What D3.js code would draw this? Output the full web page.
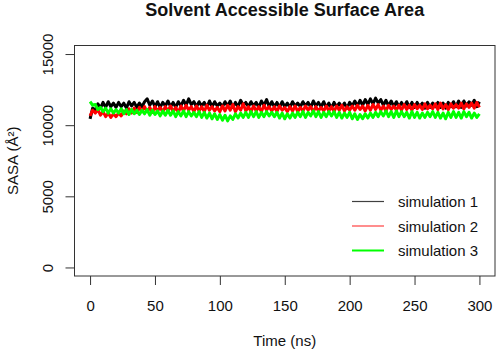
<!DOCTYPE html>
<html lang="en">
<head>
    <meta charset="UTF-8">
    <title>Solvent Accessible Surface Area</title>
    <script src="https://d3js.org/d3.v7.min.js"></script>
    <style>
        body { margin: 0; background: #fff; }
        svg { display: block; font-family: "Liberation Sans", Arial, sans-serif; }
    </style>
</head>
<body>
    <script>
        // SASA (A^2), one value every 2 ns
        const timeStep = 2;
        const seriesNames = ["simulation 1", "simulation 2", "simulation 3"];
        const seriesColors = ["#000000", "#ff0000", "#00ff00"];

        const sim1 = [
            10450, 11200, 11050, 11500, 11200, 11600, 11250, 11650, 11300, 11550, 11250,
            11600, 11300, 11550, 11200, 11650, 11350, 11600, 11250, 11550, 11300,
            11650, 11850, 11400, 11700, 11300, 11650, 11250, 11600, 11350, 11700,
            11300, 11600, 11250, 11650, 11350, 11750, 11400, 11850, 11450, 11650,
            11300, 11650, 11350, 11600, 11250, 11700, 11300, 11650, 11350, 11550,
            11300, 11650, 11350, 11700, 11250, 11600, 11300, 11750, 11400, 11600,
            11300, 11650, 11350, 11600, 11250, 11700, 11400, 11800, 11300, 11650,
            11300, 11600, 11250, 11650, 11300, 11550, 11250, 11650, 11350, 11550,
            11300, 11650, 11350, 11600, 11250, 11700, 11350, 11600, 11300, 11650,
            11250, 11550, 11200, 11600, 11300, 11550, 11250, 11550, 11200, 11600,
            11350, 11700, 11350, 11750, 11400, 11800, 11450, 11850, 11500, 11900,
            11550, 11800, 11400, 11750, 11350, 11700, 11300, 11650, 11300, 11600,
            11300, 11650, 11250, 11600, 11250, 11600, 11300, 11550, 11200, 11600,
            11250, 11550, 11300, 11600, 11250, 11550, 11200, 11600, 11300, 11650,
            11300, 11700, 11250, 11700, 11350, 11650, 11400, 11750, 11300, 11650
        ];
        const sim2 = [
            10650, 11050, 10850, 11100, 10700, 10950, 10600, 10850, 10550, 10800, 10600,
            10850, 10650, 11000, 10800, 11150, 10850, 11200, 10900, 11250, 10950,
            11300, 10950, 11250, 10900, 11300, 11000, 11250, 10950, 11300, 11000,
            11350, 10950, 11250, 10900, 11350, 11000, 11400, 11050, 11300, 10950,
            11350, 11000, 11300, 10950, 11400, 11050, 11300, 11000, 11250, 10950,
            11350, 11000, 11400, 11050, 11450, 10950, 11300, 11050, 11500, 11000,
            11300, 10950, 11350, 11000, 11300, 10950, 11400, 11050, 11300, 11000,
            11300, 10950, 11350, 11050, 11250, 10950, 11300, 11000, 11350, 10950,
            11250, 11000, 11350, 11050, 11300, 10950, 11300, 11000, 11250, 11000,
            11350, 11000, 11300, 10950, 11350, 11050, 11400, 11000, 11300, 11050,
            11350, 11050, 11400, 11100, 11350, 11000, 11400, 11050, 11450, 11100,
            11450, 11050, 11350, 11000, 11400, 11100, 11350, 11050, 11400, 11050,
            11450, 11100, 11400, 11050, 11450, 11150, 11400, 11100, 11500, 11150,
            11400, 11150, 11500, 11100, 11550, 11150, 11450, 11100, 11500, 11200,
            11450, 11200, 11550, 11150, 11500, 11250, 11550, 11200, 11600, 11250
        ];
        const sim3 = [
            11650, 11400, 11450, 11100, 11250, 10950, 11200, 10850, 11150, 10850, 11100,
            10850, 11150, 10800, 11100, 10750, 11100, 10800, 11050, 10750, 11050,
            10800, 11100, 10700, 11050, 10750, 11000, 10650, 11000, 10700, 11050,
            10700, 11000, 10600, 10950, 10650, 11000, 10600, 10950, 10650, 10900,
            10600, 10950, 10550, 10900, 10500, 10850, 10450, 10800, 10400, 10750,
            10350, 10700, 10300, 10650, 10400, 10800, 10500, 10850, 10550, 10900,
            10550, 10950, 10600, 10950, 10550, 10900, 10600, 10950, 10650, 10900,
            10600, 10900, 10500, 10850, 10450, 10800, 10500, 10850, 10550, 10900,
            10600, 10950, 10550, 10900, 10650, 11000, 10600, 10950, 10550, 10900,
            10600, 10950, 10650, 10950, 10550, 10900, 10500, 10850, 10550, 10900,
            10450, 10800, 10400, 10750, 10450, 10800, 10500, 10850, 10550, 10900,
            10600, 10950, 10650, 11000, 10600, 10950, 10550, 11000, 10600, 10950,
            10600, 10900, 10500, 10950, 10550, 10900, 10500, 10850, 10550, 10900,
            10600, 10950, 10550, 10900, 10500, 10850, 10450, 10900, 10550, 10950,
            10550, 10900, 10500, 10950, 10600, 10900, 10500, 10850, 10550, 10800
        ];
        const series = [sim1, sim2, sim3];

        const xTicks = [0, 50, 100, 150, 200, 250, 300];
        const yTicks = [0, 5000, 10000, 15000];

        const width = 498, height = 353;
        const svg = d3.select("body").append("svg")
            .attr("width", width)
            .attr("height", height);

        // R-style 4% padded ranges
        const x = d3.scaleLinear().domain([-12, 312]).range([74.5, 495]);
        const y = d3.scaleLinear().domain([-600, 15600]).range([276, 45.5]);

        // data lines
        const line = d3.line()
            .x((d, i) => x(i * timeStep))
            .y(d => y(d));

        svg.append("g")
            .selectAll("path")
            .data(series)
            .join("path")
            .attr("d", line)
            .attr("fill", "none")
            .attr("stroke", (d, i) => seriesColors[i])
            .attr("stroke-width", 3)
            .attr("stroke-linejoin", "round");

        // plot box
        svg.append("rect")
            .attr("x", x.range()[0])
            .attr("y", y.range()[1])
            .attr("width", x.range()[1] - x.range()[0])
            .attr("height", y.range()[0] - y.range()[1])
            .attr("fill", "none")
            .attr("stroke", "#333")
            .attr("stroke-width", 1);

        // x axis
        const xAxis = svg.append("g")
            .attr("transform", `translate(0,${y.range()[0]})`)
            .call(d3.axisBottom(x).tickValues(xTicks).tickSize(9).tickSizeOuter(0));
        xAxis.select(".domain").remove();
        xAxis.selectAll("line").attr("stroke", "#333");
        xAxis.selectAll("text")
            .attr("y", 35)
            .attr("dy", null)
            .attr("fill", "#111")
            .style("font-size", "15px")
            .style("font-family", "'Liberation Sans', Arial, sans-serif");

        // y axis with rotated labels
        const yAxis = svg.append("g")
            .attr("transform", `translate(${x.range()[0]},0)`)
            .call(d3.axisLeft(y).tickValues(yTicks).tickSize(9).tickSizeOuter(0).tickFormat(d3.format("d")));
        yAxis.select(".domain").remove();
        yAxis.selectAll("line").attr("stroke", "#333");
        yAxis.selectAll("text")
            .attr("transform", "rotate(-90)")
            .attr("x", 0)
            .attr("y", -21.5)
            .attr("dy", null)
            .attr("text-anchor", "middle")
            .attr("fill", "#111")
            .style("font-size", "15px")
            .style("font-family", "'Liberation Sans', Arial, sans-serif");

        // title and axis titles
        const cx = (x.range()[0] + x.range()[1]) / 2;
        svg.append("text")
            .attr("x", cx)
            .attr("y", 16)
            .attr("text-anchor", "middle")
            .style("font-size", "18px")
            .style("font-weight", "bold")
            .attr("fill", "#111")
            .text("Solvent Accessible Surface Area");

        svg.append("text")
            .attr("x", cx)
            .attr("y", 346)
            .attr("text-anchor", "middle")
            .style("font-size", "15px")
            .attr("fill", "#111")
            .text("Time (ns)");

        svg.append("text")
            .attr("transform", `translate(18,${(y.range()[0] + y.range()[1]) / 2}) rotate(-90)`)
            .attr("text-anchor", "middle")
            .style("font-size", "15px")
            .attr("fill", "#111")
            .text("SASA (Å²)");

        // legend, no box
        const legend = svg.append("g")
            .selectAll("g")
            .data(seriesNames)
            .join("g")
            .attr("transform", (d, i) => `translate(352,${201.5 + i * 24.5})`);

        legend.append("line")
            .attr("x1", 0)
            .attr("x2", 32)
            .attr("stroke", (d, i) => seriesColors[i])
            .attr("stroke-width", (d, i) => i === 2 ? 2 : 1.2)
            .attr("stroke-opacity", (d, i) => i === 2 ? 1 : 0.75);

        legend.append("text")
            .attr("x", 46)
            .attr("y", 5.5)
            .style("font-size", "15px")
            .attr("fill", "#111")
            .text(d => d);
    </script>
</body>
</html>
